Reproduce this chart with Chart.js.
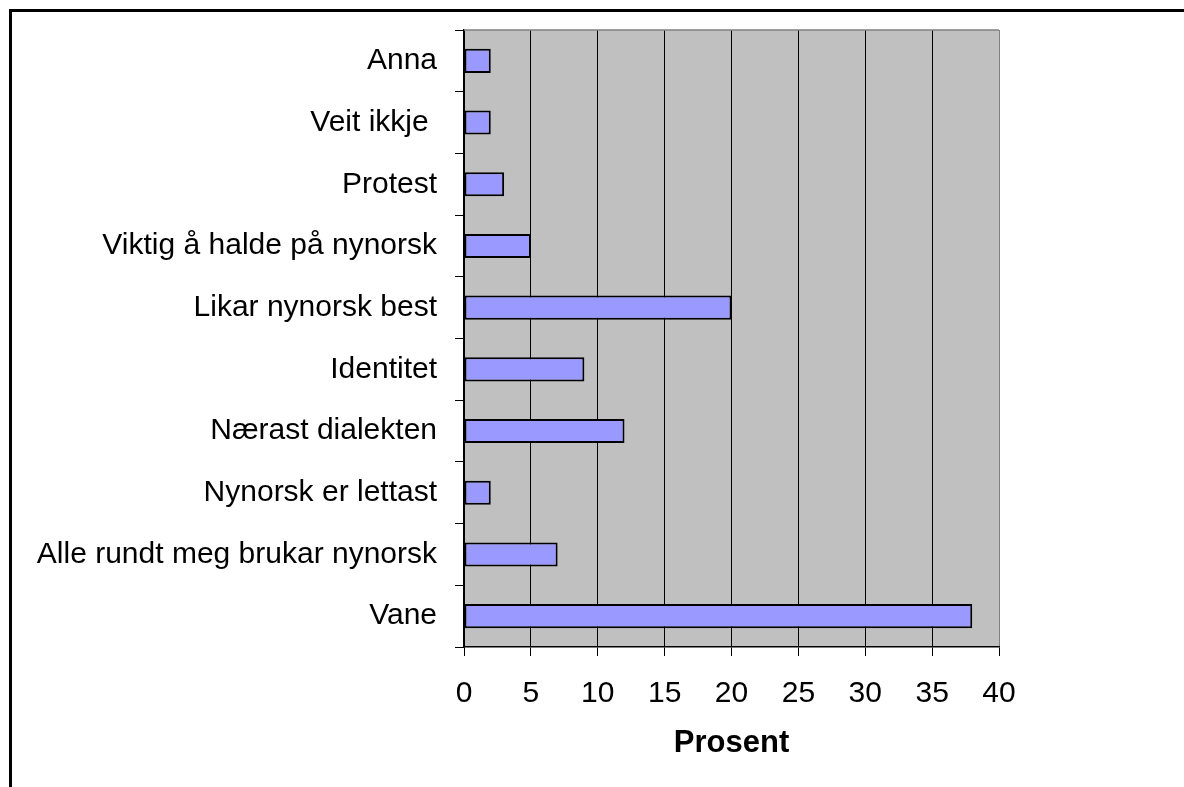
<!DOCTYPE html>
<html>
<head>
<meta charset="utf-8">
<script src="https://cdn.jsdelivr.net/npm/chart.js@4"></script>
<style>
  html, body { margin: 0; padding: 0; background: #fff; }
  #wrap { position: relative; width: 1184px; height: 787px; overflow: hidden; }
  #frame { position: absolute; left: 9px; top: 9px; width: 1300px; height: 900px;
           border-top: 3px solid #000; border-left: 3px solid #000; box-sizing: border-box; }
  canvas { position: absolute; left: 0; top: 0; }
</style>
</head>
<body>
<div id="wrap">
  <div id="frame"></div>
  <canvas id="c" width="1184" height="787"></canvas>
</div>
<script>
const categories = ["Anna", "Veit ikkje ", "Protest", "Viktig å halde på nynorsk", "Likar nynorsk best",
  "Identitet", "Nærast dialekten", "Nynorsk er lettast", "Alle rundt meg brukar nynorsk", "Vane"];
const values = [2, 2, 3, 5, 20, 9, 12, 2, 7, 38];
const xTicks = [0, 5, 10, 15, 20, 25, 30, 35, 40];
const axisTitle = "Prosent";

const FONT = '"Liberation Sans", Arial, sans-serif';

const plotBg = {
  id: 'plotBg',
  beforeDraw(chart) {
    const {ctx, chartArea: a} = chart;
    ctx.save();
    ctx.fillStyle = '#C0C0C0';
    ctx.fillRect(a.left, a.top, a.right - a.left, a.bottom - a.top);
    ctx.restore();
  },
  beforeDatasetsDraw(chart) {
    const {ctx, chartArea: a} = chart;
    ctx.save();
    ctx.strokeStyle = '#808080';
    ctx.lineWidth = 1.5;
    ctx.beginPath();
    ctx.moveTo(a.left, a.top);
    ctx.lineTo(a.right, a.top);
    ctx.stroke();
    ctx.restore();
  }
};

new Chart(document.getElementById('c'), {
  type: 'bar',
  data: {
    labels: categories,
    datasets: [{
      data: values,
      backgroundColor: '#9999FF',
      borderColor: '#000',
      borderWidth: 2,
      borderSkipped: false,
      barPercentage: 0.39,
      categoryPercentage: 1
    }]
  },
  options: {
    indexAxis: 'y',
    responsive: false,
    animation: false,
    layout: { padding: { left: 0, top: 30, right: 185, bottom: 0 } },
    plugins: { legend: { display: false }, tooltip: { enabled: false } },
    scales: {
      x: {
        type: 'linear',
        min: 0, max: 40,
        afterBuildTicks(scale) { scale.ticks = xTicks.map(v => ({ value: v })); },
        afterFit(scale) { scale.height = 140; },
        grid: {
          color: (c) => (c.tick && c.tick.value === 40) ? '#808080' : '#000',
          tickColor: '#000',
          lineWidth: 1,
          tickLength: 9,
          drawOnChartArea: true,
          drawTicks: true
        },
        border: { color: '#000', width: 1.5 },
        ticks: { color: '#000', padding: 20, font: { family: FONT, size: 30 }, maxRotation: 0 },
        title: { display: true, text: axisTitle, color: '#000',
                 font: { family: FONT, size: 31, weight: 'bold' }, padding: { top: 0, bottom: 25 } }
      },
      y: {
        afterFit(scale) { scale.width = 464; scale.paddingTop = 0; scale.paddingBottom = 0; },
        grid: { drawOnChartArea: false, drawTicks: true, tickLength: 9, tickColor: '#000', offset: true },
        border: { color: '#000', width: 1.5 },
        ticks: { color: '#000', padding: 18, font: { family: FONT, size: 30 }, autoSkip: false }
      }
    }
  },
  plugins: [plotBg]
});
</script>
</body>
</html>
